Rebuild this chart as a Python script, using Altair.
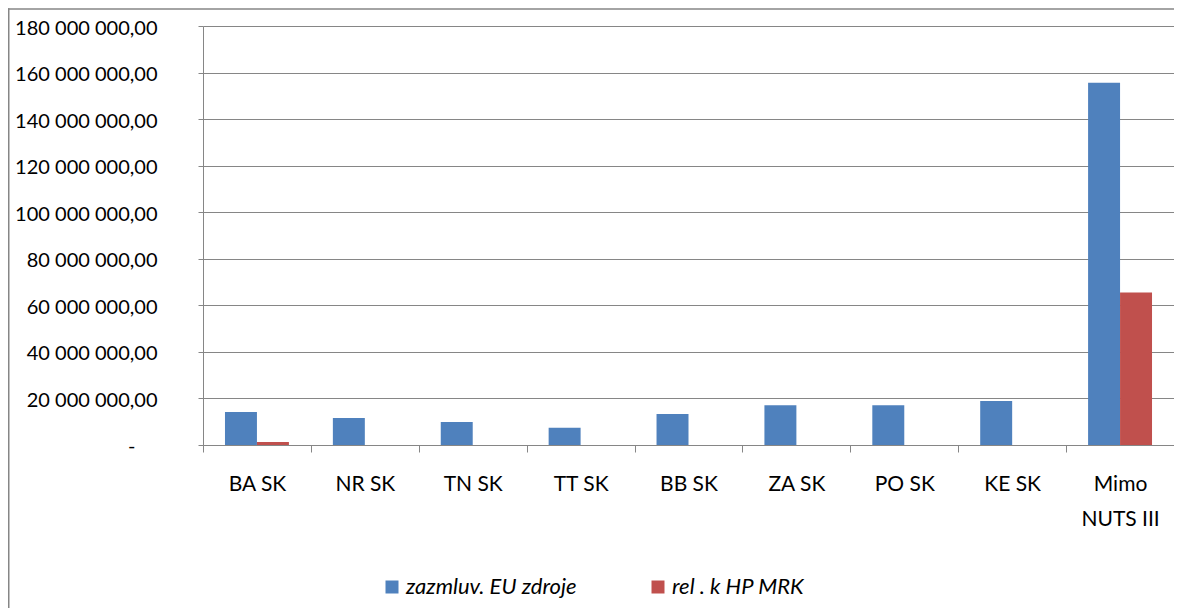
import altair as alt
import pandas as pd

# ---- data ----
categories = ["BA SK", "NR SK", "TN SK", "TT SK", "BB SK", "ZA SK", "PO SK", "KE SK", "Mimo NUTS III"]
eu_zdroje = [14200000, 11600000, 9900000, 7400000, 13300000, 17100000, 17100000, 18900000, 155600000]
rel_hp_mrk = [1300000, 0, 0, 0, 0, 0, 0, 0, 65500000]
series_names = ["zazmluv. EU zdroje", "rel . k HP MRK"]
series_colors = ["#4F81BD", "#C0504D"]
y_tick_values = [0, 20000000, 40000000, 60000000, 80000000, 100000000,
                 120000000, 140000000, 160000000, 180000000]

rows = []
for name, values in zip(series_names, [eu_zdroje, rel_hp_mrk]):
    for c, v in zip(categories, values):
        rows.append({"kategoria": c, "seria": name, "hodnota": v})
df = pd.DataFrame(rows)

W, H = 971, 419
PAD = {"left": 195, "top": 18, "right": 0, "bottom": 163}
FONT = "Lato"
GRAY = "#868686"

y_label_expr = ("datum.value == 0 ? '-' : "
                "replace(replace(format(datum.value, ',.2f'), regexp(',', 'g'), ' '), '.', ',')")
x_label_expr = "datum.value == 'Mimo NUTS III' ? ['Mimo', 'NUTS III'] : datum.label"

bars = alt.Chart(df).mark_bar().encode(
    x=alt.X("kategoria:N", sort=categories,
            scale=alt.Scale(paddingInner=0, paddingOuter=0),
            axis=alt.Axis(title=None, labelAngle=0, tickBand="extent", labelExpr=x_label_expr,
                          labelFont=FONT, labelFontSize=21, labelColor="black",
                          labelPadding=21, labelLineHeight=35,
                          domainColor=GRAY, tickColor=GRAY, tickSize=7, grid=False)),
    xOffset=alt.XOffset("seria:N", sort=series_names,
                        scale=alt.Scale(paddingInner=0, paddingOuter=0.6875)),
    y=alt.Y("hodnota:Q", scale=alt.Scale(domain=[0, 180000000], nice=False),
            axis=alt.Axis(values=y_tick_values, title=None, labelExpr=y_label_expr,
                          labelFont=FONT, labelFontSize=20, labelColor="black",
                          labelPadding={"condition": {"test": "datum.value == 0", "value": 63},
                                        "value": 41},
                          labelOffset={"condition": {"test": "datum.value == 0", "value": 1},
                                       "value": 2},
                          grid=True, gridColor=GRAY, gridWidth=1,
                          domainColor=GRAY, tickColor=GRAY, tickSize=5)),
    color=alt.Color("seria:N", sort=series_names,
                    scale=alt.Scale(domain=series_names, range=series_colors),
                    legend=alt.Legend(title=None, orient="none", legendX=178, legendY=550,
                                      direction="horizontal", symbolType="square",
                                      symbolSize=169, symbolStrokeWidth=0,
                                      labelFont=FONT, labelFontSize=22, labelFontStyle="italic",
                                      labelColor="black", labelOffset=3, labelLimit=0,
                                      columnPadding=70, padding=0)),
)

# outer chart frame (left and top edges, as in the reference), drawn as thin filled bands
frame_df = pd.DataFrame({"f": [0]})
frame_left = alt.Chart(frame_df).mark_rect(color=GRAY, strokeWidth=0).encode(
    x=alt.value(-195), x2=alt.value(-193.5), y=alt.value(-17.75), y2=alt.value(H + PAD["bottom"])
)
frame_top = alt.Chart(frame_df).mark_rect(color=GRAY, strokeWidth=0).encode(
    x=alt.value(-195), x2=alt.value(W), y=alt.value(-17.75), y2=alt.value(-16.25)
)

chart = alt.layer(bars, frame_left, frame_top).properties(
    width=W, height=H,
    padding=PAD,
    autosize=alt.AutoSizeParams(type="none"),
    background="white",
).configure_view(stroke=None)

chart.save("out.html", embed_options={"renderer": "svg", "actions": False})
